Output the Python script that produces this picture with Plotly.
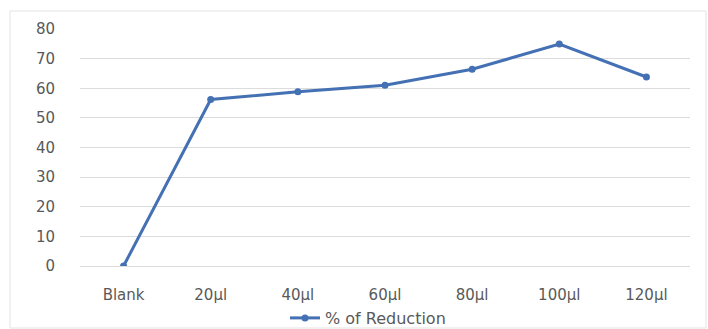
import plotly.graph_objects as go

categories = ["Blank", "20µl", "40µl", "60µl", "80µl", "100µl", "120µl"]
reduction = [0, 56.2, 58.8, 61.0, 66.4, 74.9, 63.8]
y_ticks = [0, 10, 20, 30, 40, 50, 60, 70, 80]

W, H = 708, 329
L, R, T, B = 80, 18, 29, 63
pw, ph = W - L - R, H - T - B

def px_x(x):
    return (x - L) / pw

def px_y(y):
    return (H - B - y) / ph

line_color = "#4470B4"
text_color = "#595959"
font_family = "DejaVu Sans"

fig = go.Figure()
fig.add_trace(go.Scatter(
    x=categories, y=reduction, mode="lines+markers",
    name="% of Reduction",
    line=dict(color=line_color, width=3),
    marker=dict(color=line_color, size=7),
))

fig.update_layout(
    width=W, height=H,
    margin=dict(l=L, r=R, t=T, b=B, autoexpand=False),
    paper_bgcolor="white", plot_bgcolor="white",
    font=dict(family=font_family, size=13, color=text_color),
    showlegend=True,
    legend=dict(orientation="h", xref="container", yref="container",
                x=368 / W, xanchor="center",
                y=(H - 318) / H, yanchor="middle",
                font=dict(family=font_family, size=16, color=text_color),
                bgcolor="rgba(0,0,0,0)"),
    xaxis=dict(range=[-0.5, len(categories) - 0.5], showgrid=False,
               showline=False, ticks="", automargin=False,
               ticklabelstandoff=18,
               tickfont=dict(family=font_family, size=15, color=text_color)),
    yaxis=dict(range=[0, 80], tickvals=y_ticks, showgrid=True,
               gridcolor="#DCDCDC", gridwidth=1, zeroline=True,
               zerolinecolor="#DCDCDC", zerolinewidth=1,
               showline=False, ticks="", automargin=False,
               ticklabelstandoff=24,
               tickfont=dict(family=font_family, size=15, color=text_color)),
    shapes=[dict(type="rect", xref="paper", yref="paper",
                 x0=px_x(10), x1=px_x(706), y0=px_y(328), y1=px_y(11),
                 line=dict(color="#E3E3E3", width=1), layer="below")],
)

fig.write_html("out.html")
